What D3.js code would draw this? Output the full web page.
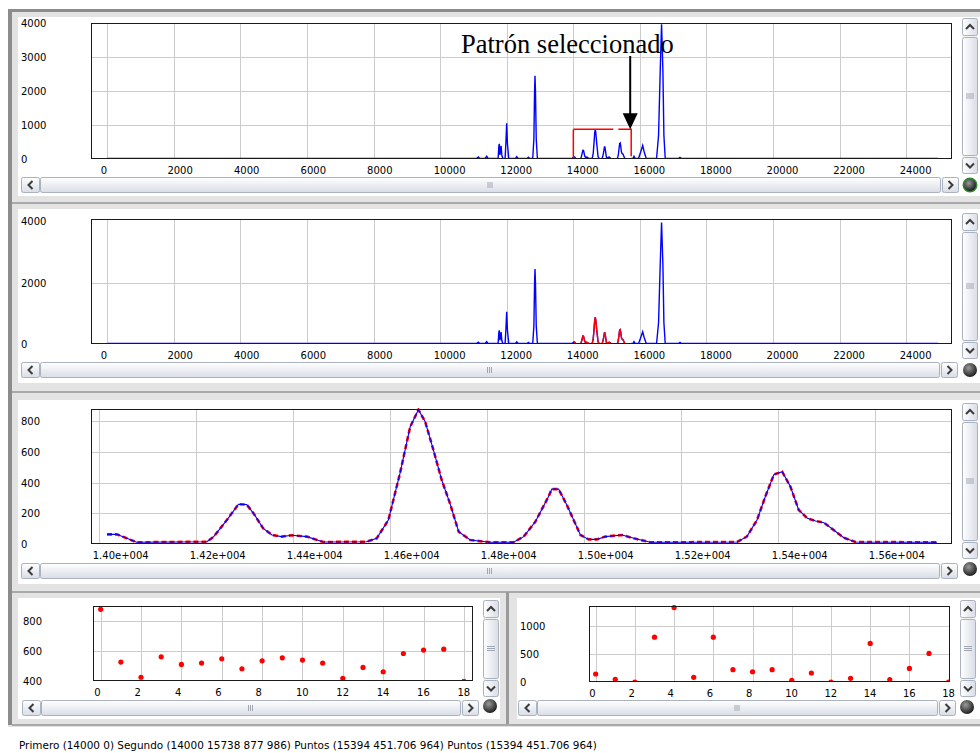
<!DOCTYPE html>
<html>
<head>
<meta charset="utf-8">
<script src="https://cdn.jsdelivr.net/npm/d3@7"></script>
<style>
body { margin: 0; background: #fff; }
svg { display: block; font-family: "DejaVu Sans", sans-serif; }
.tick text { font-family: "DejaVu Sans", sans-serif; font-size: 10px; fill: #000; }
</style>
</head>
<body>
<svg id="chart" width="980" height="753"></svg>
<script>
// spectrum before the selected pattern  [x, intensity]
const spectrumHead = [[0,15],[11090,15],[11145,60],[11190,15],[11350,15],[11397,80],[11440,15],[11740,15],[11762,380],[11776,445],[11795,120],[11830,390],[11850,120],[11880,15],[11950,15],[11975,500],[11997,1050],[12020,450],[12060,15],[12260,15],[12300,70],[12340,15],[12610,15],[12650,50],[12690,15],[12780,15],[12815,600],[12835,2000],[12848,2450],[12862,2000],[12885,600],[12920,15],[13960,15]];

// selected pattern 14000..15738 (zoomed in the third graph)
const pattern = [[14016,63],[14036,63],[14057,37],[14077,11],[14222,15],[14236,48],[14263,156],[14287,259],[14304,257],[14318,200],[14338,102],[14356,59],[14376,48],[14397,57],[14428,48],[14462,13],[14551,15],[14572,37],[14596,156],[14620,460],[14641,764],[14658,875],[14672,797],[14689,612],[14706,417],[14723,265],[14741,80],[14765,26],[14806,11],[14854,11],[14875,48],[14899,145],[14926,308],[14933,358],[14947,358],[14964,254],[14992,59],[15009,30],[15026,30],[15043,48],[15078,59],[15102,37],[15136,11],[15315,13],[15335,48],[15356,156],[15373,308],[15391,454],[15408,471],[15425,373],[15442,222],[15460,167],[15477,150],[15494,139],[15514,91],[15535,41],[15559,13],[15727,11]];

// spectrum after the selected pattern
const spectrumTail = [[15745,15],[15790,15],[15822,80],[15860,15],[15960,20],[16030,230],[16083,400],[16125,220],[16190,15],[16500,15],[16560,700],[16610,2600],[16650,3960],[16690,2600],[16720,700],[16760,15],[17160,15],[17203,50],[17250,15],[24960,15]];

// selection box: x1, x2, top
const selection = [14000, 15738, 878];

// scores per shift, bottom graphs
const scoresLeft  = [880,527,425,562,511,520,549,482,535,555,540,520,418,491,462,584,607,613,398];
const scoresRight = [143,48,0,804,1334,83,804,220,184,220,30,161,0,66,691,42,244,512,0];

const spectrumTicksX = [0,2000,4000,6000,8000,10000,12000,14000,16000,18000,20000,22000,24000];
const topTicksY = [0,1000,2000,3000,4000];
const midTicksY = [0,2000,4000];
const patternTicksX = [14000,14200,14400,14600,14800,15000,15200,15400,15600];
const patternTicksY = [0,200,400,600,800];
const shiftTicks = [0,2,4,6,8,10,12,14,16,18];
const leftTicksY = [400,600,800];
const rightTicksY = [0,500,1000];

const statusText = "Primero (14000 0) Segundo (14000 15738 877 986) Puntos (15394 451.706 964) Puntos (15394 451.706 964)";

const spectrum = spectrumHead.concat(pattern, spectrumTail);

const svg = d3.select('#chart');
const defs = svg.append('defs');

// ---------- window chrome ----------
const gradH = defs.append('linearGradient').attr('id', 'gradH').attr('x1', 0).attr('y1', 0).attr('x2', 0).attr('y2', 1);
gradH.append('stop').attr('offset', '0%').attr('stop-color', '#ffffff');
gradH.append('stop').attr('offset', '100%').attr('stop-color', '#d9dde6');
const gradV = defs.append('linearGradient').attr('id', 'gradV').attr('x1', 0).attr('y1', 0).attr('x2', 1).attr('y2', 0);
gradV.append('stop').attr('offset', '0%').attr('stop-color', '#ffffff');
gradV.append('stop').attr('offset', '100%').attr('stop-color', '#d9dde6');
const led = defs.append('radialGradient').attr('id', 'led').attr('cx', '40%').attr('cy', '35%').attr('r', '65%');
led.append('stop').attr('offset', '0%').attr('stop-color', '#9a9a9a');
led.append('stop').attr('offset', '100%').attr('stop-color', '#1e1e1e');

svg.append('rect').attr('width', 980).attr('height', 753).attr('fill', '#fff');
svg.append('rect').attr('x', 8).attr('y', 9).attr('width', 972).attr('height', 718).attr('fill', '#e3e3e3');
svg.append('rect').attr('x', 8).attr('y', 9).attr('width', 4).attr('height', 716).attr('fill', '#8c8c8c');
svg.append('rect').attr('x', 8).attr('y', 9).attr('width', 972).attr('height', 3).attr('fill', '#8c8c8c');

const panels = [[18, 17, 962, 179], [18, 209, 962, 174], [18, 400, 962, 184], [18, 598, 482, 121], [517, 598, 463, 121]];
svg.selectAll('rect.panel').data(panels).enter().append('rect')
  .attr('class', 'panel')
  .attr('x', d => d[0]).attr('y', d => d[1]).attr('width', d => d[2]).attr('height', d => d[3])
  .attr('fill', '#fff');

[202, 391, 591].forEach(yy => {
  svg.append('rect').attr('x', 12).attr('y', yy).attr('width', 968).attr('height', 2).attr('fill', '#a9a9a9');
});
svg.append('rect').attr('x', 506).attr('y', 592).attr('width', 3).attr('height', 133).attr('fill', '#9a9a9a');
svg.append('rect').attr('x', 12).attr('y', 724).attr('width', 968).attr('height', 2).attr('fill', '#a9a9a9');
svg.append('rect').attr('x', 14).attr('y', 728).attr('width', 966).attr('height', 25).attr('fill', '#fff');

function chevron(cx, cy, dir) {
  const p = {
    left:  `M${cx + 2},${cy - 4}L${cx - 2},${cy}L${cx + 2},${cy + 4}`,
    right: `M${cx - 2},${cy - 4}L${cx + 2},${cy}L${cx - 2},${cy + 4}`,
    up:    `M${cx - 4},${cy + 2}L${cx},${cy - 2}L${cx + 4},${cy + 2}`,
    down:  `M${cx - 4},${cy - 2}L${cx},${cy + 2}L${cx + 4},${cy - 2}`
  }[dir];
  svg.append('path').attr('d', p).attr('fill', 'none').attr('stroke', '#3c3c3c').attr('stroke-width', 2);
}

function button(x, y, w, h, grad) {
  svg.append('rect').attr('x', x + 0.5).attr('y', y + 0.5).attr('width', w - 1).attr('height', h - 1)
    .attr('rx', 2).attr('fill', `url(#${grad})`).attr('stroke', '#aab2c0');
}

function hScroll(x0, x1, y0) {
  const h = 16;
  svg.append('rect').attr('x', x0).attr('y', y0).attr('width', x1 - x0).attr('height', h).attr('fill', '#f3f3ef');
  button(x0, y0, 19, h, 'gradH'); chevron(x0 + 9.5, y0 + 8, 'left');
  button(x1 - 17, y0, 17, h, 'gradH'); chevron(x1 - 8.5, y0 + 8, 'right');
  button(x0 + 19, y0, x1 - x0 - 37, h, 'gradH');
  const mid = (x0 + x1) / 2;
  [-2, 0, 2].forEach(o => svg.append('line').attr('x1', mid + o).attr('x2', mid + o)
    .attr('y1', y0 + 5).attr('y2', y0 + 11).attr('stroke', '#a0a6b4'));
}

function vScroll(x0, y0, y1) {
  const w = 16;
  svg.append('rect').attr('x', x0).attr('y', y0).attr('width', w).attr('height', y1 - y0).attr('fill', '#f3f3ef');
  button(x0, y0, w, 18, 'gradV'); chevron(x0 + 8, y0 + 9, 'up');
  button(x0, y1 - 17, w, 17, 'gradV'); chevron(x0 + 8, y1 - 8.5, 'down');
  button(x0, y0 + 19, w, y1 - y0 - 37, 'gradV');
  const mid = (y0 + y1) / 2;
  [-2, 0, 2].forEach(o => svg.append('line').attr('y1', mid + o).attr('y2', mid + o)
    .attr('x1', x0 + 4).attr('x2', x0 + 12).attr('stroke', '#a0a6b4'));
}

function lamp(cx, cy, ring) {
  if (ring) svg.append('circle').attr('cx', cx).attr('cy', cy).attr('r', 7.5).attr('fill', '#2f8a2f');
  svg.append('circle').attr('cx', cx).attr('cy', cy).attr('r', ring ? 6 : 7).attr('fill', 'url(#led)');
}

hScroll(21, 959, 177); vScroll(962, 18, 174); lamp(970, 185, true);
hScroll(21, 958, 362); vScroll(962, 213, 359); lamp(970, 370, false);
hScroll(21, 958, 563); vScroll(962, 403, 559); lamp(970, 569, false);
hScroll(22, 479, 700); vScroll(483, 600, 697); lamp(490, 706, false);
hScroll(518, 956, 700); vScroll(960, 600, 697); lamp(967, 707, false);

// ---------- graphs ----------
let clipCount = 0;
function graph(c) {
  const x = d3.scaleLinear().domain(c.xDomain).range([c.left, c.right]);
  const y = d3.scaleLinear().domain(c.yDomain).range([c.bottom, c.top]);
  const g = svg.append('g');
  g.append('rect').attr('x', c.left).attr('y', c.top).attr('width', c.right - c.left).attr('height', c.bottom - c.top).attr('fill', '#fff');

  g.selectAll('line.gx').data(c.gridX).enter().append('line')
    .attr('x1', d => Math.round(x(d)) + 0.5).attr('x2', d => Math.round(x(d)) + 0.5)
    .attr('y1', c.top).attr('y2', c.bottom).attr('stroke', '#cccccc');
  g.selectAll('line.gy').data(c.gridY).enter().append('line')
    .attr('y1', d => Math.round(y(d)) + 0.5).attr('y2', d => Math.round(y(d)) + 0.5)
    .attr('x1', c.left).attr('x2', c.right).attr('stroke', '#cccccc');

  const xAxis = d3.axisBottom(x).tickValues(c.xTicks).tickSize(0).tickFormat(c.xFormat || d3.format('d'));
  const ax = g.append('g').attr('transform', `translate(0,${c.bottom})`).call(xAxis);
  ax.select('.domain').remove();
  ax.selectAll('text').attr('text-anchor', 'start').attr('x', -7).attr('y', 11).attr('dy', '0.35em');

  const yAxis = d3.axisLeft(y).tickValues(c.yTicks).tickSize(0).tickFormat(d3.format('d'));
  const ay = g.append('g').attr('transform', `translate(${c.labelX},0)`).call(yAxis);
  ay.select('.domain').remove();
  ay.selectAll('text').attr('text-anchor', 'start').attr('x', 0).attr('dy', '0.35em');

  const id = 'clip' + (clipCount++);
  defs.append('clipPath').attr('id', id).append('rect')
    .attr('x', c.left).attr('y', c.top - 1).attr('width', c.right - c.left).attr('height', c.bottom - c.top + 1);
  const plot = g.append('g').attr('clip-path', `url(#${id})`);
  const frame = () => g.append('rect').attr('x', c.left + 0.5).attr('y', c.top + 0.5)
    .attr('width', c.right - c.left - 1).attr('height', c.bottom - c.top - 1)
    .attr('fill', 'none').attr('stroke', '#1a1a1a');
  return { x, y, g, plot, frame };
}

// graph 1: full spectrum with selected pattern
const g1 = graph({ left: 91, right: 952, top: 23, bottom: 159, xDomain: [-490, 25375], yDomain: [0, 4000],
  gridX: spectrumTicksX, gridY: [1000, 2000, 3000], xTicks: spectrumTicksX, yTicks: topTicksY, labelX: 21 });
const line1 = d3.line().x(d => g1.x(d[0])).y(d => g1.y(d[1]));
g1.g.append('text').attr('x', 461).attr('y', 53)
  .attr('font-family', '"Liberation Serif", "DejaVu Serif", serif').attr('font-size', 26.5).attr('fill', '#000')
  .text('Patrón seleccionado');
g1.plot.append('path').datum(spectrum).attr('d', line1).attr('fill', 'none').attr('stroke', '#0000ff').attr('stroke-width', 1.4);
g1.plot.append('rect')
  .attr('x', g1.x(selection[0])).attr('y', g1.y(selection[2]))
  .attr('width', g1.x(selection[1]) - g1.x(selection[0])).attr('height', g1.y(0) - g1.y(selection[2]))
  .attr('fill', 'none').attr('stroke', '#ff0000').attr('stroke-width', 1.5).attr('stroke-dasharray', '40,5');
g1.frame();
const ax1 = g1.x(selection[1]) - 1, ay1 = g1.y(selection[2]);
svg.append('line').attr('x1', ax1).attr('x2', ax1).attr('y1', 56).attr('y2', ay1 - 14).attr('stroke', '#000').attr('stroke-width', 2);
svg.append('path').attr('d', `M${ax1 - 7.5},${ay1 - 16}L${ax1 + 7.5},${ay1 - 16}L${ax1},${ay1}Z`).attr('fill', '#000');

// graph 2: spectrum with the pattern in red
const g2 = graph({ left: 91, right: 952, top: 219, bottom: 344, xDomain: [-490, 25375], yDomain: [0, 4078],
  gridX: spectrumTicksX, gridY: [2000], xTicks: spectrumTicksX, yTicks: midTicksY, labelX: 21 });
const line2 = d3.line().x(d => g2.x(d[0])).y(d => g2.y(d[1]));
g2.plot.append('path').datum(spectrum).attr('d', line2).attr('fill', 'none').attr('stroke', '#0000ff').attr('stroke-width', 1.4);
g2.plot.append('path').datum(pattern).attr('d', line2).attr('fill', 'none').attr('stroke', '#ff0000').attr('stroke-width', 1.4);
g2.frame();

// graph 3: zoomed pattern, red dashed under blue
const g3 = graph({ left: 91, right: 952, top: 409, bottom: 544, xDomain: [13983, 15758], yDomain: [0, 880],
  gridX: patternTicksX, gridY: [200, 400, 600, 800], xTicks: patternTicksX, yTicks: patternTicksY, labelX: 21,
  xFormat: d => (d / 10000).toFixed(2) + 'e+004' });
const line3 = d3.line().x(d => g3.x(d[0])).y(d => g3.y(d[1]));
g3.plot.append('path').datum(pattern).attr('d', line3).attr('fill', 'none').attr('stroke', '#ff0000')
  .attr('stroke-width', 2.6).attr('stroke-dasharray', '5,3');
g3.plot.append('path').datum(pattern).attr('d', line3).attr('fill', 'none').attr('stroke', '#0000ff').attr('stroke-width', 1.1);
g3.frame();

// graph 4 and 5: scores
function scores(c, values) {
  const gr = graph(c);
  gr.plot.selectAll('circle').data(values).enter().append('circle')
    .attr('cx', (d, i) => gr.x(i)).attr('cy', d => gr.y(d)).attr('r', 2.6).attr('fill', '#ff0000');
  gr.frame();
}
scores({ left: 93, right: 473, top: 606, bottom: 681, xDomain: [-0.38, 18.45], yDomain: [400, 902],
  gridX: shiftTicks, gridY: [600, 800], xTicks: shiftTicks, yTicks: leftTicksY, labelX: 23 }, scoresLeft);
scores({ left: 589, right: 950, top: 606, bottom: 682, xDomain: [-0.34, 18.07], yDomain: [0, 1362],
  gridX: shiftTicks, gridY: [500, 1000], xTicks: shiftTicks, yTicks: rightTicksY, labelX: 520 }, scoresRight);

// status bar
svg.append('text').attr('x', 19).attr('y', 749).attr('font-size', 10.45).attr('fill', '#000').text(statusText);
</script>
</body>
</html>
